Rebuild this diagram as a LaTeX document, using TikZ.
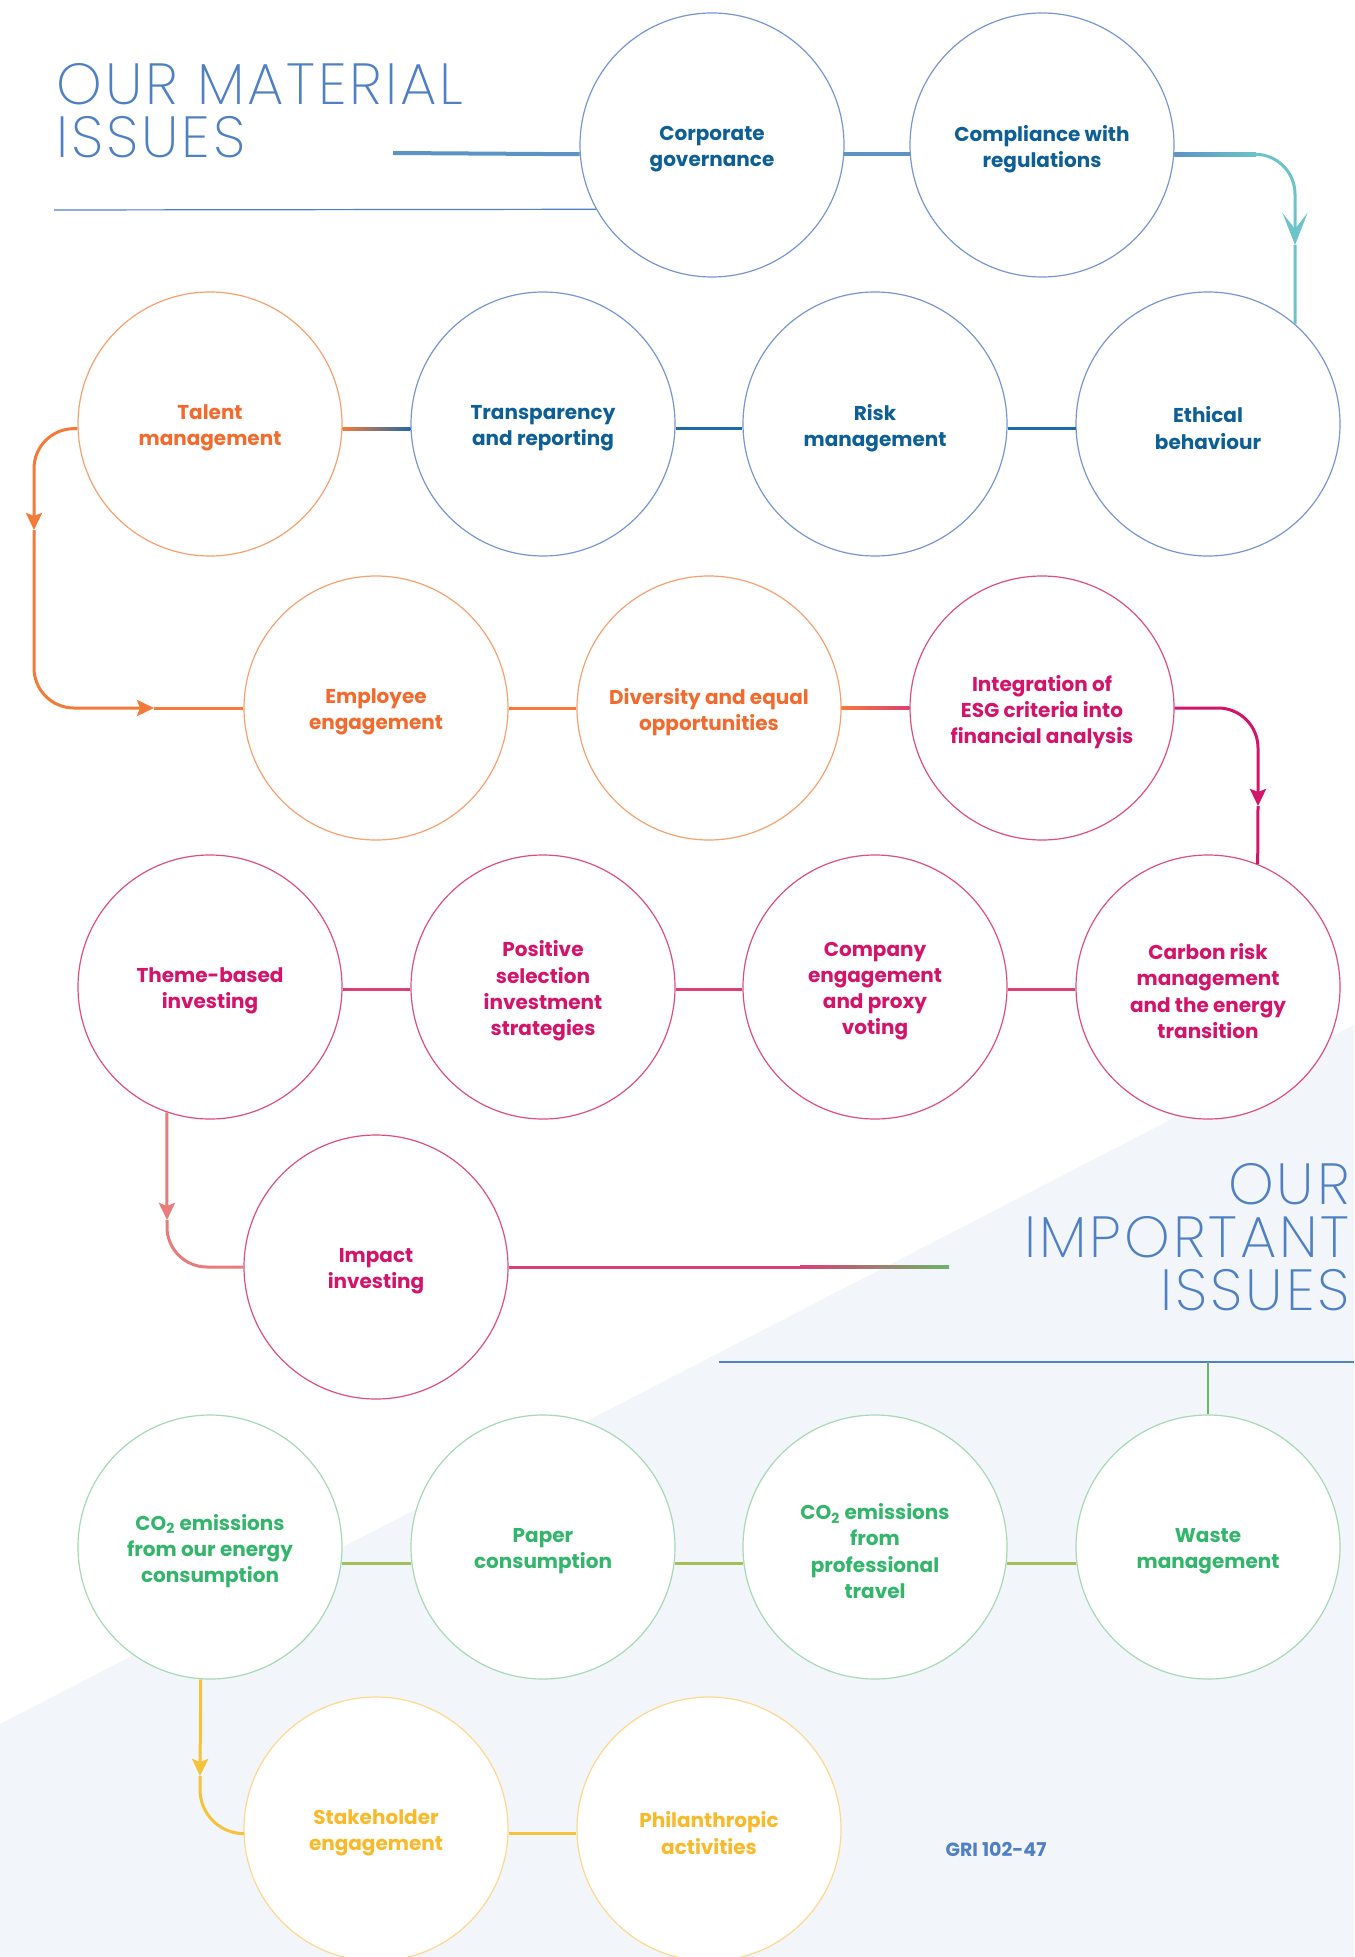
\documentclass[tikz,border=0pt]{standalone}
\usepackage{fontspec}
\setmainfont{Poppins}
\newfontfamily\thinfont{Poppins ExtraLight}[LetterSpace=5]
\usetikzlibrary{arrows.meta}

\definecolor{titleblue}{HTML}{4F7FC4}
\definecolor{bgblue}{HTML}{F2F5FA}
\definecolor{blueline}{HTML}{7896D2}
\definecolor{bluetext}{HTML}{0E5F96}
\definecolor{bluelink}{HTML}{1F6AA5}
\definecolor{bluethick}{HTML}{5B93C6}
\definecolor{tealarrow}{HTML}{6CC3C8}
\definecolor{orngline}{HTML}{F7A170}
\definecolor{orngtext}{HTML}{F26A2E}
\definecolor{ornglink}{HTML}{F47A3A}
\definecolor{magline}{HTML}{DE4F7E}
\definecolor{magtext}{HTML}{D4136A}
\definecolor{maglink}{HTML}{DB3F74}
\definecolor{salmon}{HTML}{E87C7C}
\definecolor{grnline}{HTML}{A7D9B5}
\definecolor{grntext}{HTML}{33B66B}
\definecolor{olivelink}{HTML}{A3BF5C}
\definecolor{grnlink}{HTML}{6AB56A}
\definecolor{yelline}{HTML}{FDD88E}
\definecolor{yeltext}{HTML}{F8B92A}
\definecolor{yellink}{HTML}{F5C23C}

\tikzset{
  issue/.style={circle, draw, fill=white, minimum size=132pt, inner sep=0pt, line width=0.6pt},
  issuetext/.style={align=center, inner sep=0pt, yshift=-2pt, font=\bfseries\fontsize{10}{13.1}\selectfont},
  govissue/.style={issue, draw=blueline},
  peopleissue/.style={issue, draw=orngline},
  investissue/.style={issue, draw=magline},
  envissue/.style={issue, draw=grnline},
  socissue/.style={issue, draw=yelline},
  govtext/.style={issuetext, text=bluetext},
  peopletext/.style={issuetext, text=orngtext},
  investtext/.style={issuetext, text=magtext},
  envtext/.style={issuetext, text=grntext},
  soctext/.style={issuetext, text=yeltext},
  bigtitle/.style={font=\thinfont\fontsize{29}{26.5}\selectfont, text=titleblue, inner sep=0pt},
  link/.style={line width=1.5pt},
  bigtip/.style={-{Stealth[length=16pt,width=12.5pt,inset=8pt]}},
  smalltip/.style={-{Stealth[length=8.5pt,width=8pt,inset=1.5pt]}},
}

\begin{document}
\begin{tikzpicture}[x=0.5pt,y=0.5pt,yscale=-1,xscale=1]
\useasboundingbox (0,0) rectangle (1354,1957);
\fill[white] (0,0) rectangle (1354,1957);

%Shape: background triangle
\fill[bgblue] (1354,1025) -- (0,1724) -- (0,1957) -- (1354,1957) -- cycle;

%Titles
\node[bigtitle, anchor=base west, align=left] (mattitle) at (56,158) {OUR MATERIAL\\ISSUES};
\node[bigtitle, anchor=base east, align=right] (imptitle) at (1350,1310) {OUR\\IMPORTANT\\ISSUES};
\coordinate (matrule) at (54,210);
\coordinate (matstub) at (393,153);
\coordinate (imprule) at (719,1362);
\coordinate (impruleend) at (1354,1362);

%Circles: governance
\node[govissue, label={[govtext]center:{Corporate\\governance}}] (cg) at (712,145) {};
\node[govissue, label={[govtext]center:{Compliance with\\regulations}}] (cr) at (1042,145) {};
\node[govissue, label={[govtext]center:{Ethical\\behaviour}}] (eb) at (1208,424) {};
\node[govissue, label={[govtext]center:{Risk\\management}}] (rm) at (875,424) {};
\node[govissue, label={[govtext]center:{Transparency\\and reporting}}] (tr) at (543,424) {};
%Circles: people
\node[peopleissue, label={[peopletext]center:{Talent\\management}}] (tm) at (210,424) {};
\node[peopleissue, label={[peopletext]center:{Employee\\engagement}}] (ee) at (376,708) {};
\node[peopleissue, label={[peopletext]center:{Diversity and equal\\opportunities}}] (de) at (709,708) {};
%Circles: investment
\node[investissue, label={[investtext]center:{Integration of\\ESG criteria into\\financial analysis}}] (ig) at (1042,708) {};
\node[investissue, label={[investtext]center:{Carbon risk\\management\\and the energy\\transition}}] (cm) at (1208,987) {};
\node[investissue, label={[investtext]center:{Company\\engagement\\and proxy\\voting}}] (cv) at (875,987) {};
\node[investissue, label={[investtext]center:{Positive\\selection\\investment\\strategies}}] (ps) at (543,987) {};
\node[investissue, label={[investtext]center:{Theme-based\\investing}}] (tb) at (210,987) {};
\node[investissue, label={[investtext]center:{Impact\\investing}}] (ii) at (376,1267) {};
%Circles: environment
\node[envissue, label={[envtext]center:{CO\textsubscript{2} emissions\\from our energy\\consumption}}] (ce) at (210,1547) {};
\node[envissue, label={[envtext]center:{Paper\\consumption}}] (pc) at (543,1547) {};
\node[envissue, label={[envtext]center:{CO\textsubscript{2} emissions\\from\\professional\\travel}}] (ct) at (875,1547) {};
\node[envissue, label={[envtext]center:{Waste\\management}}] (wm) at (1208,1547) {};
%Circles: society
\node[socissue, label={[soctext]center:{Stakeholder\\engagement}}] (sh) at (376,1829) {};
\node[socissue, label={[soctext]center:{Philanthropic\\activities}}] (ph) at (709,1829) {};

\node[font=\bfseries\fontsize{9.5}{11}\selectfont, text=titleblue] (gri) at (996,1849) {GRI 102-47};

%Straight Lines: title rules
\draw[titleblue, line width=0.6pt] (matrule) -- (cg.209.5);
\draw[bluethick, line width=2pt] (matstub) -- (cg.184);
\draw[titleblue, line width=0.6pt] (imprule) -- (impruleend);
\draw[grnlink, line width=1.2pt] (1208,1362) -- (wm.north);

%Row 1
\draw[bluethick, line width=2pt] (cg.-4) -- (cr.184);
\coordinate (arA) at (1295,245);
\coordinate (crA) at (1256,154.2);
\draw[tealarrow, link, rounded corners=20pt, bigtip] (cr.-4) -| (arA);
\shade[left color=bluethick, right color=tealarrow] ([yshift=1pt]cr.-4) rectangle ([yshift=-1pt]crA);
\draw[tealarrow, link] (arA) -- (eb.49);

%Row 2
\draw[bluelink, link] (eb.182) -- (rm.-2);
\draw[bluelink, link] (rm.182) -- (tr.-2);
\shade[left color=ornglink, right color=bluelink] ([yshift=0.75pt]tm.-2) rectangle ([yshift=-0.75pt]tr.182);
\coordinate (arB) at (34,530);
\coordinate (arC) at (154,708);
\draw[ornglink, link, rounded corners=20pt, smalltip] (tm.182) -| (arB);
\draw[ornglink, link, rounded corners=20pt, smalltip] (arB) |- (arC);
\draw[ornglink, link] (arC) -- (ee.west);

%Row 3
\draw[ornglink, link] (ee.east) -- (de.west);
\shade[left color=ornglink, right color=maglink] ([yshift=0.75pt]de.east) rectangle ([yshift=-0.75pt]ig.west);
\coordinate (arD) at (1258,806);
\draw[magtext, link, rounded corners=20pt, smalltip] (ig.east) -| (arD);
\draw[magtext, link] (arD) -- (cm.68);

%Row 4
\draw[maglink, line width=1.2pt] (cm.181.3) -- (cv.-1.3);
\draw[maglink, line width=1.2pt] (cv.181.3) -- (ps.-1.3);
\draw[maglink, line width=1.2pt] (ps.181.3) -- (tb.-1.3);
\coordinate (arE) at (167,1220);
\draw[salmon, link, smalltip] (tb.-109) -- (arE);
\draw[salmon, link, rounded corners=20pt] (arE) |- (ii.west);

%Row 5
\coordinate (impA) at (800,1267);
\coordinate (impB) at (949,1267);
\draw[maglink, link] (ii.east) -- (impA);
\shade[left color=maglink, right color=grnlink] ([yshift=0.75pt]impA) rectangle ([yshift=-0.75pt]impB);

%Row 6
\draw[olivelink, link] (wm.187) -- (ct.-7);
\draw[olivelink, link] (ct.187) -- (pc.-7);
\draw[olivelink, link] (pc.187) -- (ce.-7);
\coordinate (arF) at (200,1776);
\draw[yellink, link, smalltip] (ce.-94.6) -- (arF);
\draw[yellink, link, rounded corners=22pt] (arF) |- (sh.182);

%Row 7
\draw[yellink, link] (sh.-2) -- (ph.182);

\end{tikzpicture}
\end{document}
